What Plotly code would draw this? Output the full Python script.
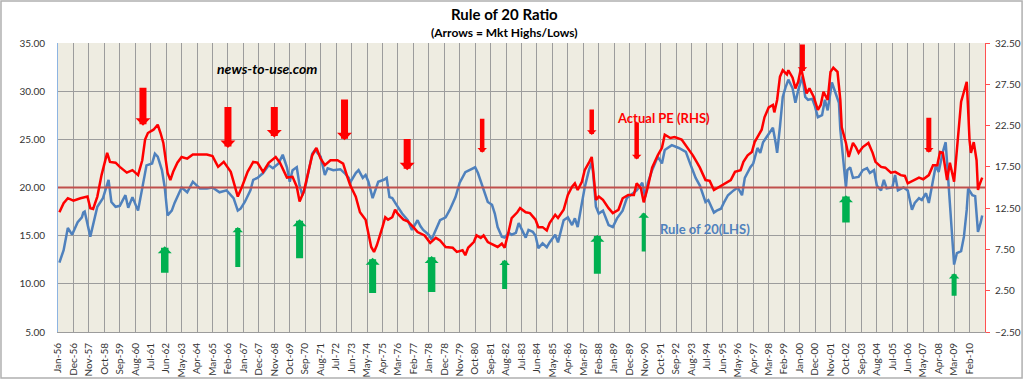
import plotly.graph_objects as go

# ---------------- data ----------------
# x positions are months since Jan-1956
tick_labels = ["Jan-56","Dec-56","Nov-57","Oct-58","Sep-59","Aug-60","Jul-61","Jun-62","May-63","Apr-64",
               "Mar-65","Feb-66","Jan-67","Dec-67","Nov-68","Oct-69","Sep-70","Aug-71","Jul-72","Jun-73",
               "May-74","Apr-75","Mar-76","Feb-77","Jan-78","Dec-78","Nov-79","Oct-80","Sep-81","Aug-82",
               "Jul-83","Jun-84","May-85","Apr-86","Mar-87","Feb-88","Jan-89","Dec-89","Nov-90","Oct-91",
               "Sep-92","Aug-93","Jul-94","Jun-95","May-96","Apr-97","Mar-98","Feb-99","Jan-00","Dec-00",
               "Nov-01","Oct-02","Sep-03","Aug-04","Jul-05","Jun-06","May-07","Apr-08","Mar-09","Feb-10"]
tick_months = [11 * i for i in range(len(tick_labels))]

rule20_month = [1,4,7,10,14,17,18,19,23,25,28,32,36,38,41,44,48,50,53,57,
                60,63,67,69,71,74,76,78,81,83,88,92,96,101,106,110,115,120,125,128,
                130,133,137,139,142,146,150,153,157,160,163,165,167,170,172,174,176,178,181,183,
                187,190,192,196,201,204,207,208,212,214,217,219,221,224,226,228,232,234,236,238,
                241,245,249,252,256,258,260,264,266,269,272,276,279,283,286,290,293,297,299,302,
                304,306,309,311,313,316,318,321,323,326,328,330,333,335,338,340,342,345,348,350,
                354,356,360,363,366,368,370,373,375,378,380,381,383,385,388,392,395,398,402,405,
                409,412,416,418,420,423,427,430,432,437,442,447,450,454,457,461,463,467,469,472,
                474,477,481,484,487,489,493,495,498,500,502,506,509,511,512,514,516,518,520,523,
                525,527,530,532,534,537,539,541,544,546,548,551,553,556,557,559,561,562,564,566,
                570,573,576,578,581,583,586,588,590,594,596,598,602,605,608,610,613,615,618,620,
                623,625,627,630,632,634,637,638,640,643,645,647,648,651,653,655,657,658]
rule20_value = [12.2,13.5,15.8,15.1,16.4,16.9,17.4,17.5,14.9,16.1,18.0,18.9,20.8,18.5,18.0,18.1,19.2,17.9,19.0,17.6,
                20.0,22.3,22.5,23.5,23.2,21.8,20.0,17.1,17.6,18.4,20.0,19.5,20.6,19.9,19.9,20.0,19.5,19.7,18.9,17.6,
                17.8,18.5,19.7,20.8,21.0,21.5,22.3,22.0,22.5,23.4,22.1,20.6,21.8,22.1,20.2,19.2,20.0,21.5,23.5,23.9,
                23.2,21.3,22.0,21.8,21.9,21.5,21.0,20.5,21.5,21.8,21.0,21.3,20.6,18.9,19.7,20.6,20.8,21.0,19.0,18.9,
                18.2,17.3,16.6,15.6,16.6,16.0,15.6,15.1,14.6,15.6,16.6,16.9,17.7,19.0,20.5,21.6,21.8,22.1,21.5,20.2,
                19.4,18.5,18.2,17.3,15.9,14.9,14.8,15.3,15.1,15.3,16.3,15.7,14.8,15.6,15.4,15.0,13.7,14.2,13.8,14.3,
                15.1,14.3,16.6,16.9,16.1,16.8,15.9,18.4,20.0,21.8,22.6,21.5,18.0,17.3,17.6,16.1,15.9,16.8,17.6,18.9,
                19.4,19.7,20.5,19.0,20.5,21.8,23.2,22.5,23.9,24.4,24.1,23.7,22.5,21.0,20.2,18.5,18.7,17.4,17.6,17.8,
                18.4,19.2,19.7,20.0,19.2,21.0,22.1,22.5,24.1,23.6,24.7,25.6,26.2,24.6,23.6,26.3,29.4,30.4,31.2,30.3,
                28.8,30.1,31.5,29.4,29.1,29.2,28.4,27.3,27.5,29.1,28.0,30.9,30.1,28.8,26.0,22.9,20.0,21.8,22.1,21.0,
                21.1,21.8,22.0,21.5,21.8,20.2,19.7,20.8,19.9,20.0,21.3,19.7,20.0,19.7,17.7,18.4,18.9,18.7,19.4,18.4,
                21.0,22.3,21.6,23.7,24.7,20.5,14.6,12.0,13.2,13.4,14.9,17.7,19.9,19.2,19.1,15.4,16.4,17.1]

pe_month = [1,4,7,11,16,21,23,25,28,31,35,37,41,44,49,53,57,60,62,64,
            68,71,73,75,78,80,82,85,88,92,96,101,106,110,114,118,123,126,128,131,
            135,139,142,146,150,155,158,163,167,170,172,175,177,181,184,187,190,194,199,203,
            206,208,212,215,219,221,223,225,227,231,233,235,238,240,242,246,249,253,256,261,
            265,269,272,276,281,284,288,290,292,296,298,301,303,306,310,313,316,318,321,323,
            327,329,333,336,340,342,345,348,350,354,356,360,363,366,368,370,373,375,378,380,
            381,383,385,388,392,395,399,402,406,410,412,415,417,420,423,427,430,432,436,439,
            444,448,452,455,457,461,464,467,470,474,479,482,486,488,491,494,496,499,501,503,
            506,509,510,512,514,516,519,520,523,525,527,529,531,533,535,538,541,543,545,548,
            550,552,555,557,558,561,563,566,568,570,573,575,577,580,582,586,589,593,596,600,
            603,605,609,613,616,620,623,626,628,630,633,635,638,640,641,643,645,647,648,649,
            650,652,654,655,656,657,658]
pe_value = [12.0,13.1,13.7,13.4,13.7,13.9,12.5,12.4,13.9,16.5,19.2,18.1,18.0,17.5,16.8,17.1,16.5,18.3,20.8,21.6,
            22.0,22.6,21.6,20.4,16.8,15.9,16.9,18.0,18.7,18.5,19.0,19.0,19.0,18.8,17.5,18.1,16.9,15.1,13.9,15.1,
            16.9,18.1,18.0,16.9,18.0,18.7,18.0,16.2,16.3,15.1,13.3,14.5,15.9,18.9,19.8,18.5,17.7,18.3,18.3,17.9,
            16.3,15.3,13.9,12.0,11.1,9.5,7.8,7.2,8.0,10.2,11.4,11.1,11.4,12.3,11.8,11.1,10.9,10.2,9.6,9.2,
            8.3,8.9,8.6,7.8,7.7,7.2,7.4,6.8,7.7,8.4,9.2,8.9,9.2,8.4,8.0,7.8,8.2,7.7,9.8,11.3,
            12.0,12.5,12.0,11.9,11.1,10.2,10.2,9.8,10.7,11.7,11.3,12.3,14.1,15.1,15.5,14.7,15.7,17.1,18.0,18.7,
            17.1,13.5,13.9,13.5,12.5,11.9,12.3,13.7,14.1,14.1,15.5,14.9,13.2,15.1,17.4,18.9,19.8,21.4,21.0,21.1,
            20.8,19.9,18.9,18.0,17.4,15.9,15.8,14.7,15.0,15.5,15.9,16.9,17.1,18.1,18.9,19.3,20.5,21.4,22.0,23.5,
            24.7,25.0,24.1,25.6,28.4,29.2,28.7,29.2,28.3,27.0,27.8,29.5,28.0,26.4,27.0,26.0,24.4,25.0,26.6,25.6,
            29.0,29.5,29.0,25.6,22.3,20.4,18.7,20.4,19.9,19.2,19.9,20.1,20.4,19.2,18.1,17.5,17.4,16.8,16.9,16.5,
            16.4,15.5,15.9,16.2,16.0,16.5,17.7,17.7,19.3,19.2,15.9,18.0,15.7,19.9,21.6,25.4,26.6,27.8,24.4,20.7,
            19.2,20.5,18.3,14.7,15.3,15.7,16.2]

rule_level = 20.0
level_span = [0, 660]

# arrows: month, tip value, tail value (left-axis units)
high_month = [60.5, 121, 154, 204, 248.6, 302, 380, 412, 530, 620]
high_tip   = [26.4, 24.1, 25.2, 24.9, 21.8, 23.6, 25.45, 22.9, 32.0, 23.6]
high_tail  = [30.5, 28.5, 28.5, 29.3, 25.2, 27.3, 28.25, 26.9, 35.0, 27.4]
low_month  = [76, 128, 172, 224, 266, 318, 384, 417, 561, 638]
low_tip    = [13.9, 15.9, 16.7, 12.7, 12.9, 12.5, 15.1, 17.4, 19.2, 11.1]
low_tail   = [11.0, 11.6, 12.5, 8.9, 9.0, 9.3, 10.9, 13.2, 16.2, 8.6]

# styles (arrow shaft widths, px)
high_width = [7, 7, 7, 7, 7, 4.5, 4.5, 4.5, 5, 5]
low_width  = [7.5, 5, 7, 7, 7.5, 5, 7, 4, 7.5, 5]

FONT = "Lato"
fig = go.Figure()

fig.add_trace(go.Scatter(x=rule20_month, y=rule20_value, mode="lines",
                         line=dict(color="#4F81BD", width=2.5), name="Rule of 20(LHS)",
                         yaxis="y"))
fig.add_trace(go.Scatter(x=level_span, y=[rule_level, rule_level], mode="lines",
                         line=dict(color="#C0504D", width=2), name="20", yaxis="y"))
fig.add_trace(go.Scatter(x=pe_month, y=pe_value, mode="lines",
                         line=dict(color="#FF0000", width=2.5), name="Actual PE (RHS)",
                         yaxis="y2"))

ann = []
for m, t, tl, w in zip(high_month, high_tip, high_tail, high_width):
    ann.append(dict(x=m, y=t, ax=m, ay=tl, xref="x", yref="y", axref="x", ayref="y",
                    text="", showarrow=True, arrowhead=1, arrowwidth=w,
                    arrowsize=(15 if w >= 7 else 9.5) / (6 * w), arrowcolor="#FF0000", standoff=0))
for m, t, tl, w in zip(low_month, low_tip, low_tail, low_width):
    ann.append(dict(x=m, y=t, ax=m, ay=tl, xref="x", yref="y", axref="x", ayref="y",
                    text="", showarrow=True, arrowhead=1, arrowwidth=w,
                    arrowsize=(14 if w >= 7 else 10.5) / (6 * w), arrowcolor="#00B050", standoff=0))

ann += [
    dict(text="<b>Rule of 20 Ratio</b>", x=0.482, y=1.100, xref="paper", yref="paper",
         showarrow=False, font=dict(family=FONT, size=15, color="#000000"), yanchor="middle"),
    dict(text="<b>(Arrows = Mkt Highs/Lows)</b>", x=0.482, y=1.035, xref="paper", yref="paper",
         showarrow=False, font=dict(family=FONT, size=12, color="#000000"), yanchor="middle"),
    dict(text="<b><i>news-to-use.com</i></b>", x=0.169, y=0.913, xref="paper", yref="paper",
         showarrow=False, font=dict(family=FONT, size=14, color="#000000"), yanchor="middle"),
    dict(text="<b>Actual PE (RHS)</b>", x=0.7055, y=0.740, xref="paper", yref="paper",
         showarrow=False, font=dict(family=FONT, size=13, color="#FF0000"), yanchor="middle"),
    dict(text="<b>Rule of 20(LHS)</b>", x=0.7487, y=0.356, xref="paper", yref="paper",
         showarrow=False, font=dict(family=FONT, size=13, color="#4F81BD"), yanchor="middle"),
]

fig.update_layout(
    width=1024, height=380,
    margin=dict(l=58, r=39, t=43, b=48, autoexpand=False),
    paper_bgcolor="#FFFFFF", plot_bgcolor="#EEECE1",
    showlegend=False,
    font=dict(family=FONT, size=10, color="#333333"),
    annotations=ann,
    xaxis=dict(range=[0, 660], tickmode="array", tickvals=tick_months, ticktext=tick_labels,
               tickangle=-90, showgrid=True, gridcolor="#9C9C9C", gridwidth=1,
               showline=True, linecolor="#9C9C9C", zeroline=False, ticks="",
               ticklabelstandoff=6, tickfont=dict(size=10), automargin=False),
    yaxis=dict(range=[5, 35], dtick=5, tick0=5, tickformat=".2f", showgrid=True,
               gridcolor="#9C9C9C", gridwidth=1, zeroline=False, showline=True,
               linecolor="#8DB4E2", ticks="", ticklabelstandoff=10, tickfont=dict(size=10),
               automargin=False),
    yaxis2=dict(range=[-2.5, 32.5], dtick=5, tick0=-2.5, tickformat=".2f", overlaying="y",
                side="right", showgrid=False, zeroline=False, showline=True,
                linecolor="#FF5050", ticks="outside", ticklen=4, tickcolor="#FF5050",
                ticklabelstandoff=3, tickfont=dict(size=10), automargin=False),
    shapes=[dict(type="rect", xref="paper", yref="paper",
                 x0=-0.0615, x1=1.040, y0=-0.159, y1=1.145,
                 line=dict(color="#B0B0B0", width=1.5), fillcolor="rgba(0,0,0,0)", layer="below")],
)

fig.write_html("out.html", config={"displayModeBar": False},
               post_script="document.body.style.margin='0px';document.body.style.overflow='hidden';")
